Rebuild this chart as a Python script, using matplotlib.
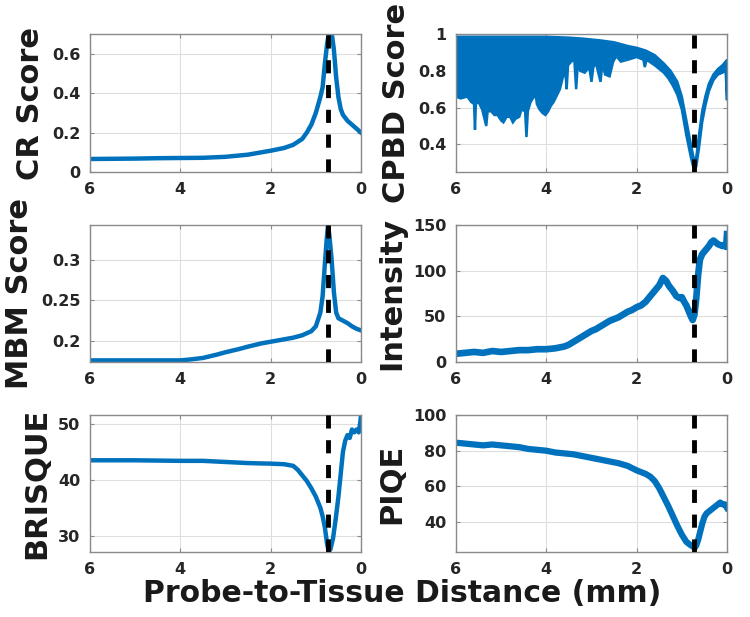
import numpy as np
import matplotlib
matplotlib.use("Agg")
import matplotlib.pyplot as plt

plt.rcParams['font.family'] = ['DejaVu Sans']
plt.rcParams['font.weight'] = 'bold'

# ---------------- data ----------------
focus_x = 0.73  # dashed line position (mm)

cr_x = [6.0, 5.5, 5.0, 4.5, 4.0, 3.5, 3.0, 2.5, 2.0, 1.7, 1.5, 1.3, 1.2, 1.1, 1.0,
        0.9, 0.85, 0.8, 0.75, 0.72, 0.68, 0.64, 0.6, 0.55, 0.5, 0.45, 0.4, 0.3, 0.2, 0.1, 0.0]
cr_y = [0.066, 0.067, 0.068, 0.070, 0.071, 0.072, 0.077, 0.088, 0.108, 0.122, 0.138, 0.168, 0.20, 0.24, 0.30,
        0.38, 0.43, 0.55, 0.65, 0.69, 0.70, 0.69, 0.62, 0.48, 0.38, 0.32, 0.29, 0.26, 0.24, 0.22, 0.20]

cpbd_up_x = [6.0, 5.0, 4.5, 4.0, 3.5, 3.2, 3.0, 2.8, 2.5, 2.2, 2.0, 1.8, 1.6, 1.4, 1.25, 1.1, 1.0,
             0.9, 0.8, 0.75, 0.72, 0.68, 0.62, 0.55, 0.48, 0.40, 0.30, 0.20, 0.10, 0.03, 0.0]
cpbd_up_y = [0.985, 0.985, 0.985, 0.985, 0.98, 0.975, 0.97, 0.965, 0.955, 0.935, 0.925, 0.91, 0.885, 0.84, 0.80, 0.74, 0.66,
             0.53, 0.40, 0.34, 0.31, 0.33, 0.45, 0.58, 0.66, 0.73, 0.78, 0.81, 0.83, 0.85, 0.86]

cpbd_lo_x = [6.00, 5.90, 5.75, 5.66, 5.60, 5.58, 5.56, 5.50, 5.42, 5.33, 5.30, 5.22, 5.15, 5.08, 5.00,
             4.95, 4.88, 4.80, 4.74, 4.68, 4.60, 4.55, 4.47, 4.44, 4.41, 4.35, 4.27, 4.25, 4.21, 4.15,
             4.08, 4.02, 3.96, 3.90, 3.84, 3.76, 3.70, 3.64, 3.58, 3.55, 3.52, 3.45, 3.38, 3.34, 3.30,
             3.25, 3.15, 3.05, 3.00, 2.96, 2.90, 2.80, 2.76, 2.70, 2.60, 2.52, 2.45, 2.35, 2.20, 2.00,
             1.85, 1.82, 1.78, 1.60, 1.50, 1.40, 1.30, 1.20, 1.10, 1.00, 0.90, 0.80, 0.75, 0.72, 0.68,
             0.62, 0.55, 0.48, 0.40, 0.30, 0.20, 0.10, 0.03, 0.0]
cpbd_lo_y = [0.66, 0.65, 0.66, 0.63, 0.62, 0.48, 0.62, 0.63, 0.59, 0.50, 0.58, 0.58, 0.56, 0.56, 0.53,
             0.52, 0.55, 0.55, 0.52, 0.54, 0.55, 0.59, 0.58, 0.44, 0.58, 0.63, 0.66, 0.70, 0.62, 0.59,
             0.57, 0.56, 0.58, 0.61, 0.63, 0.67, 0.70, 0.76, 0.80, 0.70, 0.83, 0.85, 0.86, 0.70, 0.85,
             0.80, 0.79, 0.82, 0.74, 0.82, 0.84, 0.74, 0.84, 0.78, 0.77, 0.85, 0.88, 0.85, 0.86, 0.875,
             0.86, 0.82, 0.86, 0.83, 0.81, 0.79, 0.76, 0.72, 0.67, 0.59, 0.45, 0.33, 0.28, 0.26, 0.28,
             0.38, 0.52, 0.61, 0.69, 0.75, 0.78, 0.79, 0.80, 0.64]

mbm_x = [6.0, 5.0, 4.0, 3.8, 3.5, 3.2, 3.0, 2.7, 2.5, 2.2, 2.0, 1.7, 1.5, 1.3, 1.1, 1.0,
         0.9, 0.85, 0.8, 0.76, 0.73, 0.7, 0.65, 0.6, 0.55, 0.5, 0.4, 0.3, 0.2, 0.1, 0.0]
mbm_y = [0.176, 0.176, 0.176, 0.177, 0.179, 0.183, 0.186, 0.190, 0.193, 0.197, 0.199, 0.202, 0.204, 0.207, 0.212, 0.218,
         0.235, 0.255, 0.295, 0.325, 0.343, 0.33, 0.30, 0.26, 0.235, 0.228, 0.225, 0.222, 0.218, 0.215, 0.213]

int_x = [6.0, 5.8, 5.6, 5.4, 5.2, 5.0, 4.8, 4.6, 4.4, 4.2, 4.0, 3.8, 3.7, 3.6, 3.5, 3.4,
         3.3, 3.2, 3.1, 3.0, 2.9, 2.8, 2.7, 2.6, 2.5, 2.4, 2.3, 2.2, 2.1, 2.0, 1.9, 1.8,
         1.7, 1.6, 1.5, 1.42, 1.35, 1.28, 1.2, 1.12, 1.05, 1.0, 0.95, 0.9, 0.85, 0.8, 0.76, 0.72,
         0.68, 0.64, 0.6, 0.55, 0.5, 0.45, 0.4, 0.35, 0.3, 0.25, 0.2, 0.15, 0.1, 0.05, 0.02, 0.0]
int_y = [9, 10, 11, 10, 12, 11, 12, 13, 13, 14, 14, 15, 16, 17, 19, 22,
         25, 28, 31, 34, 36, 39, 42, 45, 47, 49, 52, 55, 57, 60, 62, 66,
         72, 78, 84, 92, 89, 83, 78, 72, 70, 71, 66, 62, 56, 50, 46, 52,
         70, 95, 112, 118, 121, 124, 127, 131, 133, 131, 129, 128, 127, 128, 126, 140]

brisque_x = [6.0, 5.0, 4.0, 3.5, 3.0, 2.5, 2.0, 1.7, 1.5, 1.4, 1.3, 1.2, 1.1, 1.0, 0.9, 0.85, 0.8,
             0.75, 0.72, 0.68, 0.62, 0.56, 0.5, 0.45, 0.4, 0.35, 0.3, 0.25, 0.2, 0.15, 0.1, 0.05, 0.02, 0.0]
brisque_y = [43.5, 43.5, 43.4, 43.4, 43.2, 43.0, 42.9, 42.8, 42.5, 41.8, 40.8, 39.8, 38.5, 37.0, 35.0, 33.5, 31.5,
             28.5, 27.4, 27.5, 29.5, 33.0, 37.0, 41.0, 45.0, 47.0, 48.0, 47.5, 49.0, 48.5, 49.0, 48.5, 50.0, 51.5]

piqe_x = [6.0, 5.8, 5.6, 5.4, 5.2, 5.0, 4.8, 4.6, 4.4, 4.2, 4.0, 3.8, 3.6, 3.4, 3.2, 3.0, 2.8,
          2.6, 2.4, 2.2, 2.0, 1.9, 1.8, 1.7, 1.6, 1.5, 1.4, 1.3, 1.2, 1.1, 1.0, 0.9, 0.8,
          0.75, 0.72, 0.68, 0.64, 0.6, 0.55, 0.5, 0.45, 0.4, 0.35, 0.3, 0.25, 0.2, 0.15, 0.1, 0.05, 0.0]
piqe_y = [84.5, 84, 83.5, 83, 83.5, 83, 82.5, 82, 81, 80.5, 80, 79, 78.5, 78, 77, 76, 75,
          74, 73, 71.5, 69, 68, 67, 65.5, 63, 59, 54, 49, 43.5, 38, 33, 29, 27,
          26.5, 25.5, 27, 30, 34, 39, 43, 45, 46, 47, 48, 49, 50, 51, 50, 50, 48]

x_ticks = [6, 4, 2, 0]
cr_ticks, cr_labels = [0, 0.2, 0.4, 0.6], ["0", "0.2", "0.4", "0.6"]
cpbd_ticks, cpbd_labels = [0.4, 0.6, 0.8, 1.0], ["0.4", "0.6", "0.8", "1"]
mbm_ticks, mbm_labels = [0.2, 0.25, 0.3], ["0.2", "0.25", "0.3"]
int_ticks, int_labels = [0, 50, 100, 150], ["0", "50", "100", "150"]
brisque_ticks, brisque_labels = [30, 40, 50], ["30", "40", "50"]
piqe_ticks, piqe_labels = [40, 60, 80, 100], ["40", "60", "80", "100"]

# ---------------- drawing ----------------
BLUE = '#0072BD'
TXT = '#262626'
W, H = 750, 617
fig = plt.figure(figsize=(7.5, 6.17), dpi=100)


def make_ax(left, top, right, bottom):
    return fig.add_axes([left / W, 1 - bottom / H, (right - left) / W, (bottom - top) / H])


def style(ax, ylim, yticks, ylabels, ylabel):
    ax.set_xlim(6, 0)
    ax.set_ylim(*ylim)
    ax.set_xticks(x_ticks)
    ax.set_xticklabels([str(t) for t in x_ticks])
    ax.set_yticks(yticks)
    ax.set_yticklabels(ylabels)
    ax.grid(True, color='#dedede', lw=0.8)
    ax.set_axisbelow(True)
    for s in ax.spines.values():
        s.set_color('#8a8a8a')
        s.set_linewidth(1.0)
    ax.tick_params(direction='in', length=3, width=0.8, color='#8a8a8a',
                   labelsize=11.5, labelcolor=TXT, pad=7, top=True, right=True)
    for lab in ax.get_xticklabels() + ax.get_yticklabels():
        lab.set_fontweight('bold')
    ax.set_ylabel(ylabel, fontsize=22, fontweight='bold', color='#1a1a1a', labelpad=5)
    ax.axvline(focus_x, color='black', lw=3.5, ls=(0, (2.7, 2.4)), zorder=5)


LW = 3.2
ax1 = make_ax(90, 34, 361, 172)
ax1.plot(cr_x, cr_y, color=BLUE, lw=LW)
style(ax1, (0, 0.7), cr_ticks, cr_labels, 'CR Score')

ax2 = make_ax(456, 34, 727, 172)
poly_x = list(cpbd_up_x) + list(cpbd_lo_x[::-1])
poly_y = list(cpbd_up_y) + list(cpbd_lo_y[::-1])
ax2.fill(poly_x, poly_y, color=BLUE, lw=1.8, ec=BLUE)
style(ax2, (0.25, 1.0), cpbd_ticks, cpbd_labels, 'CPBD Score')

ax3 = make_ax(90, 225, 361, 362)
ax3.plot(mbm_x, mbm_y, color=BLUE, lw=LW)
style(ax3, (0.174, 0.343), mbm_ticks, mbm_labels, 'MBM Score')

ax4 = make_ax(456, 225, 727, 362)
ax4.plot(int_x, int_y, color=BLUE, lw=4.8)
style(ax4, (0, 150), int_ticks, int_labels, 'Intensity')

ax5 = make_ax(90, 415, 361, 552)
ax5.plot(brisque_x, brisque_y, color=BLUE, lw=LW)
style(ax5, (27.1, 51.6), brisque_ticks, brisque_labels, 'BRISQUE')

ax6 = make_ax(456, 415, 727, 552)
ax6.plot(piqe_x, piqe_y, color=BLUE, lw=4.5)
style(ax6, (23.3, 100), piqe_ticks, piqe_labels, 'PIQE')

fig.text(402 / W, 1 - 594 / H, 'Probe-to-Tissue Distance (mm)', ha='center', va='center',
         fontsize=21.5, fontweight='bold', color='#1a1a1a')

fig.savefig('out.png', dpi=100)
